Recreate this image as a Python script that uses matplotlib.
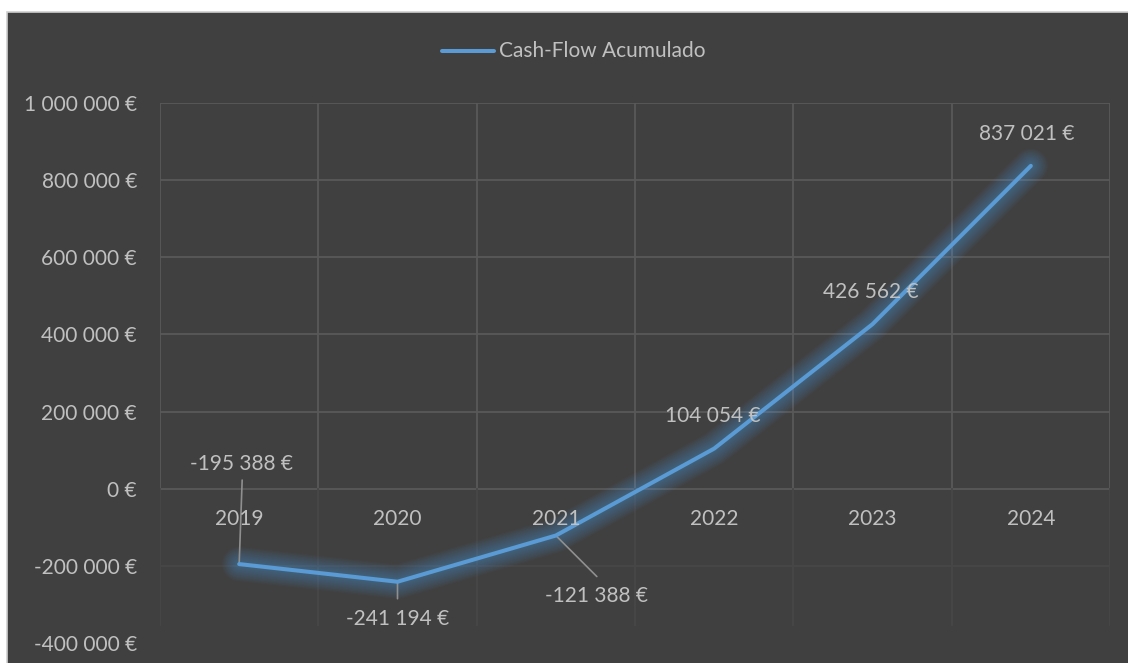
import matplotlib
matplotlib.use("Agg")
import matplotlib.pyplot as plt
from matplotlib.patches import Rectangle
from matplotlib.ticker import FuncFormatter

years = ["2019", "2020", "2021", "2022", "2023", "2024"]
cash_flow = [-195388, -241194, -121388, 104054, 426562, 837021]
y_ticks = [-400000, -200000, 0, 200000, 400000, 600000, 800000, 1000000]
series_name = "Cash-Flow Acumulado"

BG = "#404040"
TEXT = "#c0c0c0"
LINE = "#5b9bd5"
GRID = "#595959"
GRID_FAINT = "#474747"
LEADER = "#8f8f8f"
FS = 15

plt.rcParams["font.family"] = ["Lato", "DejaVu Sans"]

W, H = 1128, 663
fig = plt.figure(figsize=(W / 100, H / 100), dpi=100, facecolor="white")
fig.patches.append(Rectangle((7 / W, -0.05), 1.1, 1.05 - 12 / H, transform=fig.transFigure,
                             facecolor=BG, edgecolor="#d0d0d0", linewidth=1.2, zorder=-10))

ax = fig.add_axes([160 / W, (H - 643) / H, (1110 - 160) / W, (643 - 103) / H])
ax.set_facecolor("none")
for s in ax.spines.values():
    s.set_visible(False)

x = list(range(len(years)))
ax.set_xlim(-0.5, len(years) - 0.5)
ax.set_ylim(y_ticks[0], y_ticks[-1])

# gridlines: stronger above zero, faint below it
plot_bottom = -354000
for t in y_ticks[1:]:
    ax.axhline(t, color=GRID if t >= 0 else GRID_FAINT, lw=1.3, zorder=1)
for k in range(len(years) + 1):
    xv = k - 0.5
    ax.plot([xv, xv], [0, y_ticks[-1]], color=GRID, lw=1.3, zorder=1)
    ax.plot([xv, xv], [plot_bottom, 0], color=GRID_FAINT, lw=1.3, zorder=1)

# glowing series line
for lw in range(34, 4, -2):
    ax.plot(x, cash_flow, color=LINE, lw=lw * 0.72, alpha=0.035,
            solid_capstyle="round", solid_joinstyle="round", zorder=2)
ax.plot(x, cash_flow, color=LINE, lw=2.9, solid_capstyle="round",
        solid_joinstyle="round", zorder=4)

# y axis labels
ax.set_yticks(y_ticks)
ax.yaxis.set_major_formatter(FuncFormatter(lambda v, p: f"{v:,.0f}".replace(",", " ") + " €"))
ax.tick_params(axis="y", length=0, pad=16.5, labelsize=FS, labelcolor=TEXT)
ax.set_xticks([])

# category labels sit next to the zero line
for i, yr in enumerate(years):
    ax.annotate(yr, (i, 0), xytext=(0, -30), textcoords="offset pixels",
                ha="center", va="center", fontsize=FS, color=TEXT, zorder=5)

# data labels (offsets in pixels) and leader lines
label_offsets = [(2, 100), (0, -37), (41, -60), (-1, 33), (-2, 32), (-4, 32)]
leaders = {0: (3, 84), 1: (0, -17), 2: (41, -41)}
for i, (val, (dx, dy)) in enumerate(zip(cash_flow, label_offsets)):
    txt = f"{val:,.0f}".replace(",", " ") + " €"
    ax.annotate(txt, (i, val), xytext=(dx, dy), textcoords="offset pixels",
                ha="center", va="center", fontsize=FS, color=TEXT, zorder=6)
    if i in leaders:
        lx, ly = leaders[i]
        ax.annotate("", (i, val), xytext=(lx, ly), textcoords="offset pixels",
                    arrowprops=dict(arrowstyle="-", color=LEADER, lw=1.2,
                                    shrinkA=0, shrinkB=0), zorder=3)

# legend
fig.lines.append(plt.Line2D([442 / W, 494 / W], [(H - 51) / H] * 2, transform=fig.transFigure,
                            color=LINE, lw=2.9, solid_capstyle="round"))
fig.text(499 / W, (H - 51) / H, series_name, ha="left", va="center",
         fontsize=FS, color=TEXT)

fig.savefig("out.png", dpi=100, facecolor=fig.get_facecolor())
